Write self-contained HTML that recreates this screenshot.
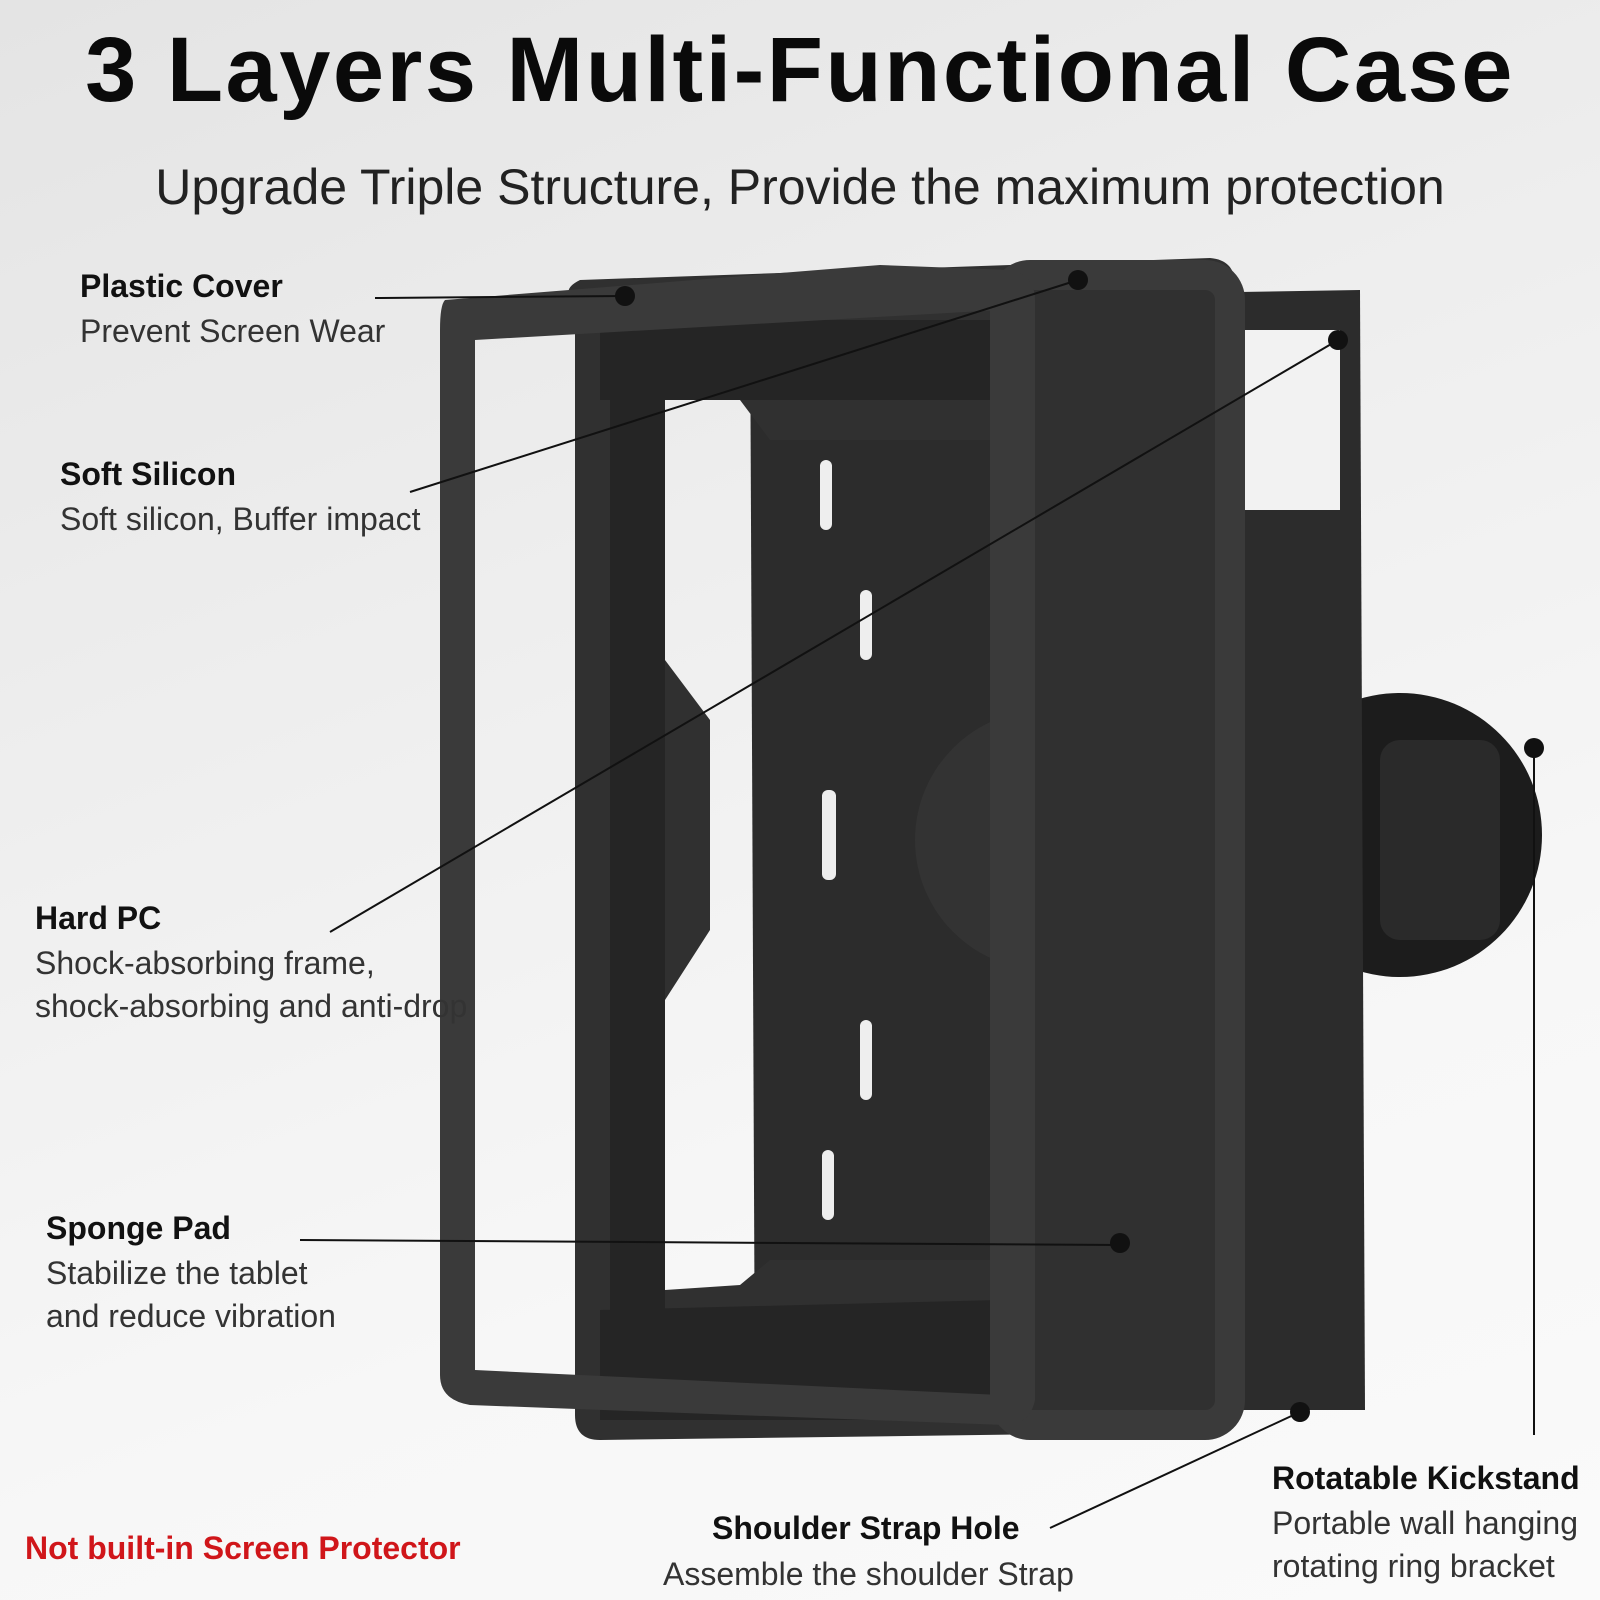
<!DOCTYPE html>
<html><head><style>
body{margin:0;width:1600px;height:1600px;overflow:hidden;background:linear-gradient(160deg,#e4e4e4 0%,#efefef 40%,#f7f7f7 70%,#fafafa 100%);font-family:"Liberation Sans",sans-serif;position:relative}
.t{position:absolute;white-space:nowrap;color:#111}
h1{position:absolute;left:0;width:1600px;text-align:center;top:18px;margin:0;font-size:92px;font-weight:700;letter-spacing:2.5px;color:#0a0a0a}
.sub{left:0;width:1600px;text-align:center;top:158px;font-size:50px;color:#222}
.h{font-size:32px;font-weight:700}
.d{font-size:32px;color:#333;line-height:43px}
</style></head><body>
<h1>3 Layers Multi-Functional Case</h1>
<div class="t sub">Upgrade Triple Structure, Provide the maximum protection</div>
<svg width="1600" height="1600" style="position:absolute;left:0;top:0">
<circle cx="1400" cy="835" r="142" fill="#1c1c1c"/>
<rect x="1380" y="740" width="120" height="200" rx="20" fill="#2a2a2a"/>
<path d="M750 300 L1360 290 L1365 1410 L755 1410 Z" fill="#2c2c2c"/>
<rect x="1245" y="330" width="95" height="180" fill="#f2f2f2"/>
<circle cx="1045" cy="840" r="130" fill="#333"/>
<path fill-rule="evenodd" fill="#303030" d="M575 300 Q560 290 580 280 L1210 258 Q1235 260 1235 285 L1240 1410 Q1235 1432 1210 1432 L600 1440 Q575 1440 575 1415 Z M665 400 L740 400 L770 440 L1000 440 L1000 1260 L770 1260 L740 1285 L665 1290 L665 1000 L710 930 L710 720 L665 660 Z"/>
<path fill="#1e1e1e" d="M610 370 L665 370 L665 1320 L610 1320 Z M600 1310 L1000 1300 L1000 1420 L600 1420 Z M600 320 L1000 320 L1000 400 L600 400 Z" opacity="0.6"/>
<rect x="1005" y="275" width="225" height="1150" rx="25" fill="none" stroke="#3a3a3a" stroke-width="30"/>
<path fill-rule="evenodd" fill="#3a3a3a" d="M445 300 L880 265 L1010 270 Q1035 275 1035 300 L1035 1400 Q1030 1425 1005 1425 L470 1405 Q440 1400 440 1375 L440 330 Q440 305 445 300 Z M475 340 L1000 310 L1000 1395 L475 1370 Z"/>
<rect x="820" y="460" width="12" height="70" rx="6" fill="#eee"/>
<rect x="860" y="590" width="12" height="70" rx="6" fill="#eee"/>
<rect x="822" y="790" width="14" height="90" rx="6" fill="#eee"/>
<rect x="860" y="1020" width="12" height="80" rx="6" fill="#eee"/>
<rect x="822" y="1150" width="12" height="70" rx="6" fill="#eee"/>
<g stroke="#111" stroke-width="2" fill="none">
<line x1="375" y1="298" x2="625" y2="296"/>
<line x1="410" y1="492" x2="1078" y2="280"/>
<line x1="330" y1="932" x2="1338" y2="340"/>
<line x1="300" y1="1240" x2="1120" y2="1245"/>
<line x1="1050" y1="1528" x2="1300" y2="1412"/>
<line x1="1534" y1="750" x2="1534" y2="1435"/>
</g>
<g fill="#111"><circle cx="625" cy="296" r="10"/><circle cx="1078" cy="280" r="10"/><circle cx="1338" cy="340" r="10"/><circle cx="1120" cy="1243" r="10"/><circle cx="1300" cy="1412" r="10"/><circle cx="1534" cy="748" r="10"/></g>
</svg>
<div class="t h" style="left:80px;top:268px">Plastic Cover</div>
<div class="t d" style="left:80px;top:310px">Prevent Screen Wear</div>
<div class="t h" style="left:60px;top:456px">Soft Silicon</div>
<div class="t d" style="left:60px;top:498px">Soft silicon, Buffer impact</div>
<div class="t h" style="left:35px;top:900px">Hard PC</div>
<div class="t d" style="left:35px;top:942px">Shock-absorbing frame,<br>shock-absorbing and anti-drop</div>
<div class="t h" style="left:46px;top:1210px">Sponge Pad</div>
<div class="t d" style="left:46px;top:1252px">Stabilize the tablet<br>and reduce vibration</div>
<div class="t h" style="left:25px;top:1530px;color:#d0161a">Not built-in Screen Protector</div>
<div class="t h" style="left:712px;top:1510px">Shoulder Strap Hole</div>
<div class="t d" style="left:663px;top:1553px">Assemble the shoulder Strap</div>
<div class="t h" style="left:1272px;top:1460px">Rotatable Kickstand</div>
<div class="t d" style="left:1272px;top:1502px">Portable wall hanging<br>rotating ring bracket</div>
</body></html>
